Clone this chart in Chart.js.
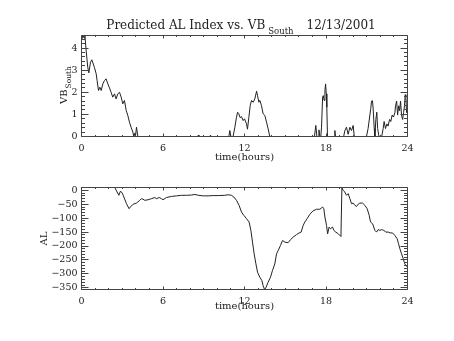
<!DOCTYPE html>
<html>
<head>
<meta charset="utf-8">
<title>Predicted AL Index vs. VB South 12/13/2001</title>
<script src="https://cdn.jsdelivr.net/npm/chart.js@4.4.1/dist/chart.umd.min.js"></script>
<style>
  html, body { margin: 0; padding: 0; background: #fff; }
  #wrap { position: relative; width: 454px; height: 341px; }
  #vb-chart { position: absolute; left: 0; top: 0; }
  #al-chart { position: absolute; left: 0; top: 170px; }
</style>
</head>
<body>
<div id="wrap">
  <canvas id="vb-chart" width="454" height="170"></canvas>
  <canvas id="al-chart" width="454" height="171"></canvas>
</div>
<script>
// tick labels
const hourTicks = [0, 6, 12, 18, 24];
const vbTicks = [0, 1, 2, 3, 4];
const alTicks = [0, -50, -100, -150, -200, -250, -300, -350];

// VB south, top panel
const vbHours = [
  0, 0.1, 0.2, 0.25, 0.34, 0.46, 0.54, 0.66, 0.76, 0.95, 1.08, 1.15, 1.25, 1.35, 1.45,
  1.57, 1.69, 1.81, 1.94, 2.06, 2.18, 2.3, 2.43, 2.55, 2.67, 2.8, 2.92, 3.04, 3.16, 3.29,
  3.41, 3.53, 3.65, 3.78, 3.85, 3.92, 3.97, 4.05, 4.15,
  8.55, 8.6, 8.65, 9.45, 9.5, 9.55, 10.85, 10.92, 11.0,
  11.16, 11.29, 11.41, 11.49, 11.58, 11.68, 11.78, 11.9, 12.0, 12.15, 12.22, 12.32, 12.42,
  12.52, 12.64, 12.76, 12.89, 12.96, 13.06, 13.13, 13.25, 13.37, 13.5, 13.62, 13.74, 13.86,
  17.15, 17.25, 17.33, 17.42, 17.48, 17.55, 17.62, 17.67, 17.75, 17.8, 17.86, 17.92, 17.97,
  18.02, 18.06, 18.11, 18.6, 18.65, 18.7,
  19.3, 19.39, 19.51, 19.63, 19.76, 19.88, 20.0, 20.08,
  20.98, 21.1, 21.23, 21.3, 21.35, 21.42, 21.47, 21.55, 21.6, 21.67, 21.74, 21.8, 21.9,
  22.1, 22.21, 22.28, 22.38, 22.48, 22.57, 22.68, 22.77, 22.87, 22.97, 23.07, 23.12, 23.2,
  23.27, 23.35, 23.42, 23.49, 23.56, 23.64, 23.71, 23.78, 23.83, 23.88, 23.93, 24
];
const vbValues = [
  4.34, 4.57, 4.45, 4.57, 3.9, 3.14, 2.88, 3.36, 3.47, 3.13, 2.84, 2.53, 2.08, 2.23, 2.08,
  2.38, 2.53, 2.61, 2.38, 2.2, 2.0, 1.78, 1.93, 1.7, 1.93, 2.0, 1.78, 1.48, 1.63, 1.18,
  0.95, 0.65, 0.42, 0.2, 0, 0.15, 0, 0.42, 0,
  0, 0.06, 0, 0, 0.06, 0, 0, 0.27, 0,
  0, 0.42, 0.87, 1.1, 1.03, 0.85, 0.9, 0.72, 0.8, 0.57, 0.33, 0.87, 1.4,
  1.63, 1.55, 1.7, 2.05, 1.85, 1.55, 1.63, 1.4, 1.03, 0.95, 0.65, 0.35, 0,
  0, 0.5, 0, 0, 0.3, 0, 0, 0.42, 1.78, 1.85, 1.63, 2.08, 2.38,
  1.93, 1.33, 0, 0, 0.27, 0,
  0, 0.27, 0.42, 0.1, 0.42, 0.27, 0.5, 0,
  0, 0.36, 0.97, 1.28, 1.6, 1.62, 1.28, 0.36, 0, 0.77, 1.1, 0.36, 0,
  0, 0.36, 0.68, 0.36, 0.57, 0.47, 0.77, 0.68, 0.97, 0.88, 1.08, 1.39, 1.6,
  0.97, 1.39, 1.17, 1.6, 0.97, 0.77, 1.08, 1.39, 1.89, 1.8, 1.08, 1.28
];

// predicted AL, bottom panel
const alHours = [
  2.45, 2.62, 2.75, 2.87, 3.0, 3.07, 3.31, 3.5, 3.6, 3.8, 4.05, 4.29, 4.41, 4.53, 4.66,
  4.9, 5.15, 5.4, 5.52, 5.72, 5.89, 6.0, 6.25, 6.63, 7.0, 7.37, 7.74, 8.1, 8.35, 8.6,
  8.96, 9.33, 9.69, 10.06, 10.55, 10.8, 11.04, 11.21, 11.41, 11.6, 11.78, 11.95, 12.15,
  12.34, 12.47, 12.59, 12.71, 12.84, 12.96, 13.13, 13.28, 13.37, 13.48, 13.57, 13.74,
  13.91, 14.06, 14.23, 14.36, 14.48, 14.65, 14.8, 14.97, 15.21, 15.39, 15.58, 15.83,
  16.02, 16.17, 16.32, 16.44, 16.61, 16.81, 17.04, 17.3, 17.55, 17.75, 17.84, 17.92,
  18.04, 18.12, 18.23, 18.33, 18.48, 18.58, 18.72, 18.9, 19.02, 19.1, 19.17, 19.26,
  19.38, 19.51, 19.63, 19.76, 19.88, 20.0, 20.13, 20.25, 20.37, 20.49, 20.69, 20.86,
  21.03, 21.18, 21.28, 21.43, 21.6, 21.72, 21.84, 21.97, 22.09, 22.26, 22.41, 22.58,
  22.75, 22.9, 23.07, 23.24, 23.34, 23.44, 23.56, 23.69, 23.8, 23.93, 24.0
];
const alValues = [
  10, -6, -18, -3, -10, -18, -48, -66, -60, -50, -46, -36, -30, -32, -36,
  -34, -30, -26, -30, -26, -30, -34, -26, -22, -20, -18, -18, -17, -15, -18,
  -20, -20, -19, -19, -18, -16, -18, -24, -36, -54, -78, -90, -102,
  -114, -144, -186, -228, -264, -294, -312, -324, -342, -356, -350, -330,
  -312, -288, -264, -228, -216, -198, -180, -186, -188, -177, -168, -159,
  -153, -150, -126, -114, -102, -86, -74, -68, -68, -60, -66, -96,
  -126, -156, -132, -138, -132, -144, -150, -156, -162, -166, 10, 0,
  -6, -18, -12, -30, -48, -46, -54, -58, -50, -46, -46, -54,
  -66, -90, -114, -120, -144, -150, -141, -144, -141, -144, -150, -150,
  -153, -153, -162, -174, -192, -210, -228, -246, -264, -273, -276
];

const titleText = 'Predicted AL Index vs. VB';
const titleSub = 'South';
const titleDate = '12/13/2001';

const ink = '#222';
const serif = '"DejaVu Serif", serif';

// frame round the plot area with inward major/minor ticks on all four sides
const boxTicks = {
  id: 'boxTicks',
  afterDatasetsDraw(chart, args, opts) {
    const { ctx, chartArea: a } = chart;
    const x = chart.scales.x, y = chart.scales.y;
    const crisp = p => Math.floor(p) + 0.5;
    const isMajor = (v, step) => Math.abs(v / step - Math.round(v / step)) < 1e-6;
    const steps = (min, max, step) => {
      const out = [];
      for (let i = Math.ceil(min / step - 1e-9); i * step <= max + 1e-9; i++) out.push(i * step);
      return out;
    };
    ctx.save();
    ctx.strokeStyle = '#444';
    ctx.lineWidth = 1;
    ctx.beginPath();
    ctx.rect(a.left, a.top, a.right - a.left, a.bottom - a.top);
    steps(x.min, x.max, opts.xMinor).forEach(v => {
      const p = crisp(x.getPixelForValue(v));
      const len = isMajor(v, opts.xMajor) ? opts.xLen : opts.xLen / 2;
      ctx.moveTo(p, a.bottom); ctx.lineTo(p, a.bottom - len);
      ctx.moveTo(p, a.top); ctx.lineTo(p, a.top + len);
    });
    steps(y.min, y.max, opts.yMinor).forEach(v => {
      const p = crisp(y.getPixelForValue(v));
      const len = isMajor(v, opts.yMajor) ? opts.yLen : opts.yLen / 2;
      ctx.moveTo(a.left, p); ctx.lineTo(a.left + len, p);
      ctx.moveTo(a.right, p); ctx.lineTo(a.right - len, p);
    });
    ctx.stroke();
    ctx.restore();
  }
};

// main title and the VB(South) axis label, both with a subscript
const headings = {
  id: 'headings',
  afterDraw(chart) {
    const { ctx } = chart;
    ctx.save();
    ctx.fillStyle = ink;
    ctx.textBaseline = 'alphabetic';
    ctx.textAlign = 'left';

    ctx.font = '12px ' + serif;
    const wMain = ctx.measureText(titleText).width;
    const wDate = ctx.measureText(titleDate).width;
    ctx.font = '8.5px ' + serif;
    const wSub = ctx.measureText(titleSub).width;
    const total = wMain + 3 + wSub + 13 + wDate;
    let x0 = 241 - total / 2;
    ctx.font = '12px ' + serif;
    ctx.fillText(titleText, x0, 29);
    ctx.fillText(titleDate, x0 + wMain + 3 + wSub + 13, 29);
    ctx.font = '8.5px ' + serif;
    ctx.fillText(titleSub, x0 + wMain + 3, 34);

    ctx.translate(67, 104);
    ctx.rotate(-Math.PI / 2);
    ctx.font = '10px ' + serif;
    ctx.fillText('VB', 0, 0);
    const wVB = ctx.measureText('VB').width;
    ctx.font = '7.5px ' + serif;
    ctx.fillText(titleSub, wVB + 1, 3.5);
    ctx.restore();
  }
};

const signed = v => (v < 0 ? '\u2212' + Math.abs(v) : String(v));

function panel(canvasId, hours, values, cfg) {
  const points = hours.map((h, i) => ({ x: h, y: values[i] }));
  return new Chart(document.getElementById(canvasId), {
    type: 'line',
    data: {
      datasets: [{
        data: points,
        borderColor: ink,
        borderWidth: 1,
        pointRadius: 0,
        tension: 0,
        fill: false
      }]
    },
    plugins: cfg.plugins,
    options: {
      responsive: false,
      devicePixelRatio: 1,
      animation: false,
      events: [],
      layout: { padding: { left: 0, top: cfg.top, right: 46.5, bottom: 0 } },
      plugins: {
        legend: { display: false },
        tooltip: { enabled: false },
        boxTicks: { xMinor: 1, xMajor: 6, xLen: 3, yMinor: cfg.yMinor, yMajor: cfg.yMajor, yLen: 7 }
      },
      scales: {
        x: {
          type: 'linear',
          min: 0,
          max: 24,
          afterBuildTicks: s => { s.ticks = hourTicks.map(v => ({ value: v })); },
          afterFit: s => { s.height = cfg.xHeight; },
          grid: { display: false, drawTicks: false },
          border: { display: false },
          ticks: { color: ink, font: { family: serif, size: 9.5 }, padding: 6, maxRotation: 0, autoSkip: false },
          title: {
            display: true,
            text: 'time(hours)',
            color: ink,
            font: { family: serif, size: 10 },
            padding: { top: 0, bottom: cfg.xTitlePad }
          }
        },
        y: {
          type: 'linear',
          min: cfg.yMin,
          max: cfg.yMax,
          afterBuildTicks: s => { s.ticks = cfg.yTicks.map(v => ({ value: v })); },
          afterFit: s => { s.width = 81.5; },
          grid: { display: false, drawTicks: false },
          border: { display: false },
          ticks: { color: ink, font: { family: serif, size: 9.5 }, padding: 4, callback: signed },
          title: cfg.yTitle
        }
      }
    }
  });
}

document.addEventListener('DOMContentLoaded', () => {
  panel('vb-chart', vbHours, vbValues, {
    top: 35.5, xHeight: 33.5, xTitlePad: 7,
    yMin: 0, yMax: 4.57, yTicks: vbTicks, yMinor: 0.2, yMajor: 1,
    yTitle: { display: false },
    plugins: [boxTicks, headings]
  });

  panel('al-chart', alHours, alValues, {
    top: 17.5, xHeight: 51.5, xTitlePad: 29,
    yMin: -356, yMax: 10, yTicks: alTicks, yMinor: 10, yMajor: 50,
    yTitle: {
      display: true,
      text: 'AL',
      color: ink,
      font: { family: serif, size: 10 },
      padding: { top: 38, bottom: 0 }
    },
    plugins: [boxTicks]
  });
});
</script>
</body>
</html>
